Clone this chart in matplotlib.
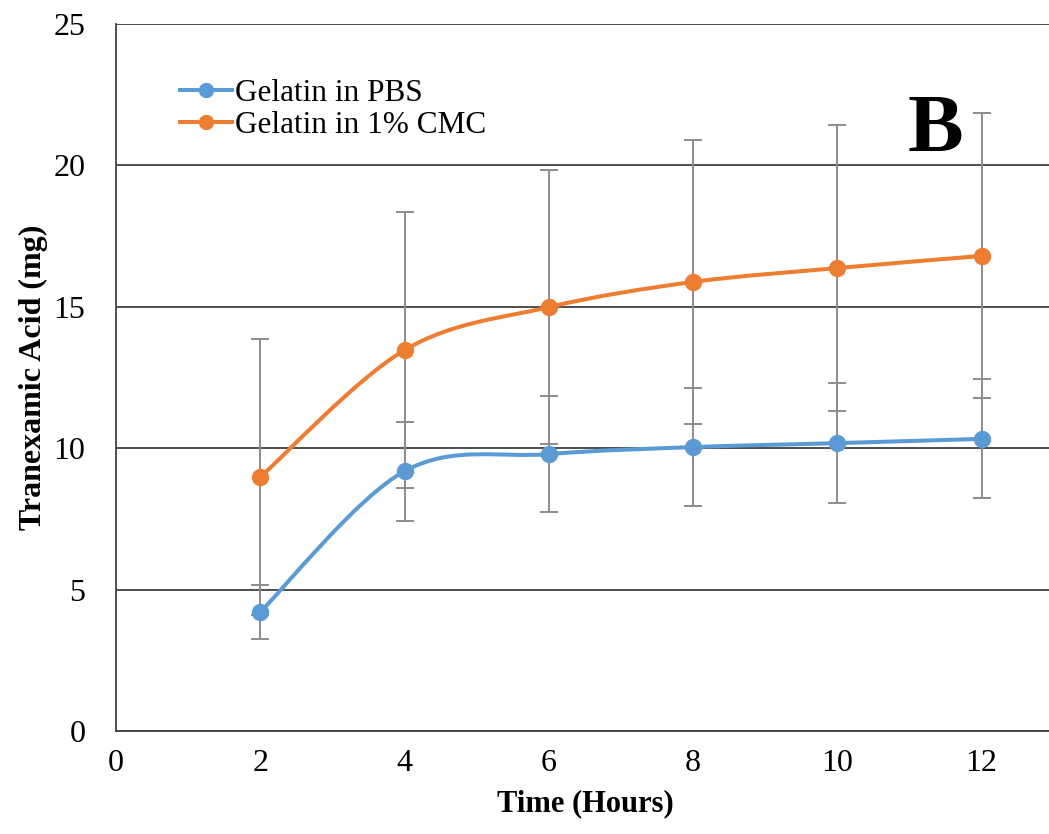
import numpy as np
import matplotlib
matplotlib.use("Agg")
import matplotlib.pyplot as plt
from matplotlib.path import Path
from matplotlib.patches import PathPatch
from matplotlib.lines import Line2D

plt.rcParams['font.family'] = ['Liberation Serif', 'DejaVu Serif']

hours = [2, 4, 6, 8, 10, 12]
pbs = [4.21, 9.19, 9.79, 10.04, 10.18, 10.33]
pbs_err = [0.95, 1.75, 2.06, 2.09, 2.11, 2.10]
cmc = [8.98, 13.47, 14.99, 15.88, 16.37, 16.80]
cmc_err = [4.88, 4.87, 4.85, 5.02, 5.07, 5.04]

blue = '#5B9BD5'
orange = '#ED7D31'


def smooth_path(x, y):
    # excel-like smoothed line: cubic bezier between data points
    x = np.asarray(x, float)
    y = np.asarray(y, float)
    n = len(x)
    verts = [(x[0], y[0])]
    codes = [Path.MOVETO]
    for i in range(n - 1):
        x0, y0 = (x[i - 1], y[i - 1]) if i > 0 else (x[i], y[i])
        x3, y3 = (x[i + 2], y[i + 2]) if i + 2 < n else (x[i + 1], y[i + 1])
        c1 = (x[i] + (x[i + 1] - x0) / 6, y[i] + (y[i + 1] - y0) / 6)
        c2 = (x[i + 1] - (x3 - x[i]) / 6, y[i + 1] - (y3 - y[i]) / 6)
        verts += [c1, c2, (x[i + 1], y[i + 1])]
        codes += [Path.CURVE4] * 3
    return Path(verts, codes)


fig = plt.figure(figsize=(10.49, 8.34), dpi=100)
ax = fig.add_axes([0.1106, 0.1235, 0.894, 0.8477])

for yv, ev, col in [(pbs, pbs_err, blue), (cmc, cmc_err, orange)]:
    ax.errorbar(hours, yv, yerr=ev, fmt='none', ecolor='#8c8c8c',
                elinewidth=1.4, capsize=6.5, capthick=1.4, zorder=2)
for yv, col in [(pbs, blue), (cmc, orange)]:
    ax.add_patch(PathPatch(smooth_path(hours, yv), facecolor='none',
                           edgecolor=col, lw=2.9, zorder=3))
    ax.plot(hours, yv, 'o', color=col, ms=11.5, zorder=4)

ax.set_xlim(0, 13)
ax.set_ylim(0, 25)
ax.set_xticks([0, 2, 4, 6, 8, 10, 12])
ax.set_yticks([0, 5, 10, 15, 20, 25])
ax.yaxis.grid(True, color='#404040', lw=1.3)
ax.set_axisbelow(True)
ax.tick_params(length=0, labelsize=23)
ax.tick_params(axis='y', pad=22)
ax.tick_params(axis='x', pad=13)
for s in ['top', 'right']:
    ax.spines[s].set_visible(False)
for s in ['left', 'bottom']:
    ax.spines[s].set_color('#404040')
    ax.spines[s].set_linewidth(1.3)

ax.set_xlabel('Time (Hours)', fontsize=22, fontweight='bold', labelpad=8)
ax.set_ylabel('Tranexamic Acid (mg)', fontsize=23, fontweight='bold', labelpad=4)

handles = [Line2D([], [], color=blue, lw=2.9, marker='o', ms=10),
           Line2D([], [], color=orange, lw=2.9, marker='o', ms=10)]
ax.legend(handles, ['Gelatin in PBS', 'Gelatin in 1% CMC'], loc='upper left',
          bbox_to_anchor=(0.052, 0.945), frameon=False, fontsize=22.5,
          handlelength=1.65, handletextpad=0.1, labelspacing=0.1, borderpad=0)

ax.text(11.36, 21.2, 'B', fontsize=60, fontweight='bold', ha='center', va='center')

fig.savefig('out.png', dpi=100)
